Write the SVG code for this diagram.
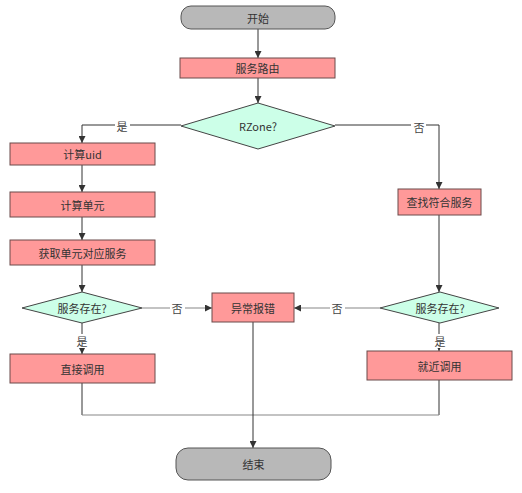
<svg xmlns="http://www.w3.org/2000/svg" width="522" height="493" viewBox="0 0 522 493">
<defs>
<style>
.term{fill:#b8b8b8;stroke:#555;stroke-width:1}
.proc{fill:#ff9999;stroke:#6b4a4a;stroke-width:1}
.dec{fill:#ccffe8;stroke:#444;stroke-width:1}
text{font-family:"Noto Sans CJK SC","Noto Sans",sans-serif;font-size:11px;fill:#333;text-anchor:middle;dominant-baseline:central}
.ln{fill:none;stroke:#333;stroke-width:1}
.lg{fill:none;stroke:#888;stroke-width:1.2}
.lbl{fill:#444;font-size:11px}
</style>
<marker id="ah" viewBox="0 0 10 10" refX="10" refY="5" markerWidth="7" markerHeight="7" orient="auto" markerUnits="userSpaceOnUse">
<path d="M0,0 L10,5 L0,10 z" fill="#333"/>
</marker>
</defs>
<rect width="522" height="493" fill="#fff"/>
<g id="connectors">
<path class="ln" d="M258,29 V58" marker-end="url(#ah)"/>
<path class="ln" d="M258,78 V103" marker-end="url(#ah)"/>
<path class="ln" d="M181,125 H82 V143" marker-end="url(#ah)"/>
<path class="ln" d="M335,125 H439 V189" marker-end="url(#ah)"/>
<path class="ln" d="M82,165 V192" marker-end="url(#ah)"/>
<path class="ln" d="M82,217 V240" marker-end="url(#ah)"/>
<path class="ln" d="M82,265 V292" marker-end="url(#ah)"/>
<path class="ln" d="M439,215 V292" marker-end="url(#ah)"/>
<path class="lg" d="M142,308 H212" marker-end="url(#ah)"/>
<path class="lg" d="M380,308 H294" marker-end="url(#ah)"/>
<path class="ln" d="M82,323 V354" marker-end="url(#ah)"/>
<path class="ln" d="M439,323 V351" marker-end="url(#ah)"/>
<path class="ln" d="M82,383 V415"/>
<path class="ln" d="M439,380 V415"/>
<path class="lg" d="M82,415 H439"/>
<path class="ln" d="M253,322 V448" marker-end="url(#ah)"/>
<rect x="115" y="119" width="15" height="13" fill="#fff"/>
<text class="lbl" x="122" y="126">是</text>
<rect x="411" y="120" width="15" height="13" fill="#fff"/>
<text class="lbl" x="419" y="127">否</text>
<rect x="170" y="301" width="15" height="14" fill="#fff"/>
<text class="lbl" x="177" y="308">否</text>
<rect x="330" y="301" width="15" height="14" fill="#fff"/>
<text class="lbl" x="337" y="308">否</text>
<rect x="75" y="334" width="15" height="14" fill="#fff"/>
<text class="lbl" x="82" y="341">是</text>
<rect x="432" y="334" width="15" height="14" fill="#fff"/>
<text class="lbl" x="440" y="341">是</text>
</g>
<g id="start"><rect class="term" x="181" y="6" width="154" height="23" rx="10"/><text x="258" y="17.5">开始</text></g>
<g id="route"><rect class="proc" x="180" y="58" width="155" height="20"/><text x="257.5" y="68">服务路由</text></g>
<g id="rzone"><polygon class="dec" points="258,103 335,126 258,149 181,126"/><text x="258" y="126">RZone?</text></g>
<g id="calcuid"><rect class="proc" x="10" y="143" width="145" height="22"/><text x="82.5" y="154">计算uid</text></g>
<g id="calcunit"><rect class="proc" x="10" y="192" width="145" height="25"/><text x="82.5" y="204.5">计算单元</text></g>
<g id="getsvc"><rect class="proc" x="10" y="240" width="145" height="25"/><text x="82.5" y="252.5">获取单元对应服务</text></g>
<g id="findsvc"><rect class="proc" x="398" y="189" width="83" height="26"/><text x="439.5" y="202">查找符合服务</text></g>
<g id="exist1"><polygon class="dec" points="82,292 142,308 82,323 22,308"/><text x="82" y="308">服务存在?</text></g>
<g id="exist2"><polygon class="dec" points="440,292 499,308 440,323 380,308"/><text x="440" y="308">服务存在?</text></g>
<g id="error"><rect class="proc" x="212" y="293" width="82" height="29"/><text x="253" y="307.5">异常报错</text></g>
<g id="direct"><rect class="proc" x="10" y="354" width="145" height="29"/><text x="82.5" y="368.5">直接调用</text></g>
<g id="nearby"><rect class="proc" x="367" y="351" width="145" height="29"/><text x="439.5" y="365.5">就近调用</text></g>
<g id="end"><rect class="term" x="176" y="448" width="155" height="32" rx="12"/><text x="253.5" y="464">结束</text></g>
</svg>
